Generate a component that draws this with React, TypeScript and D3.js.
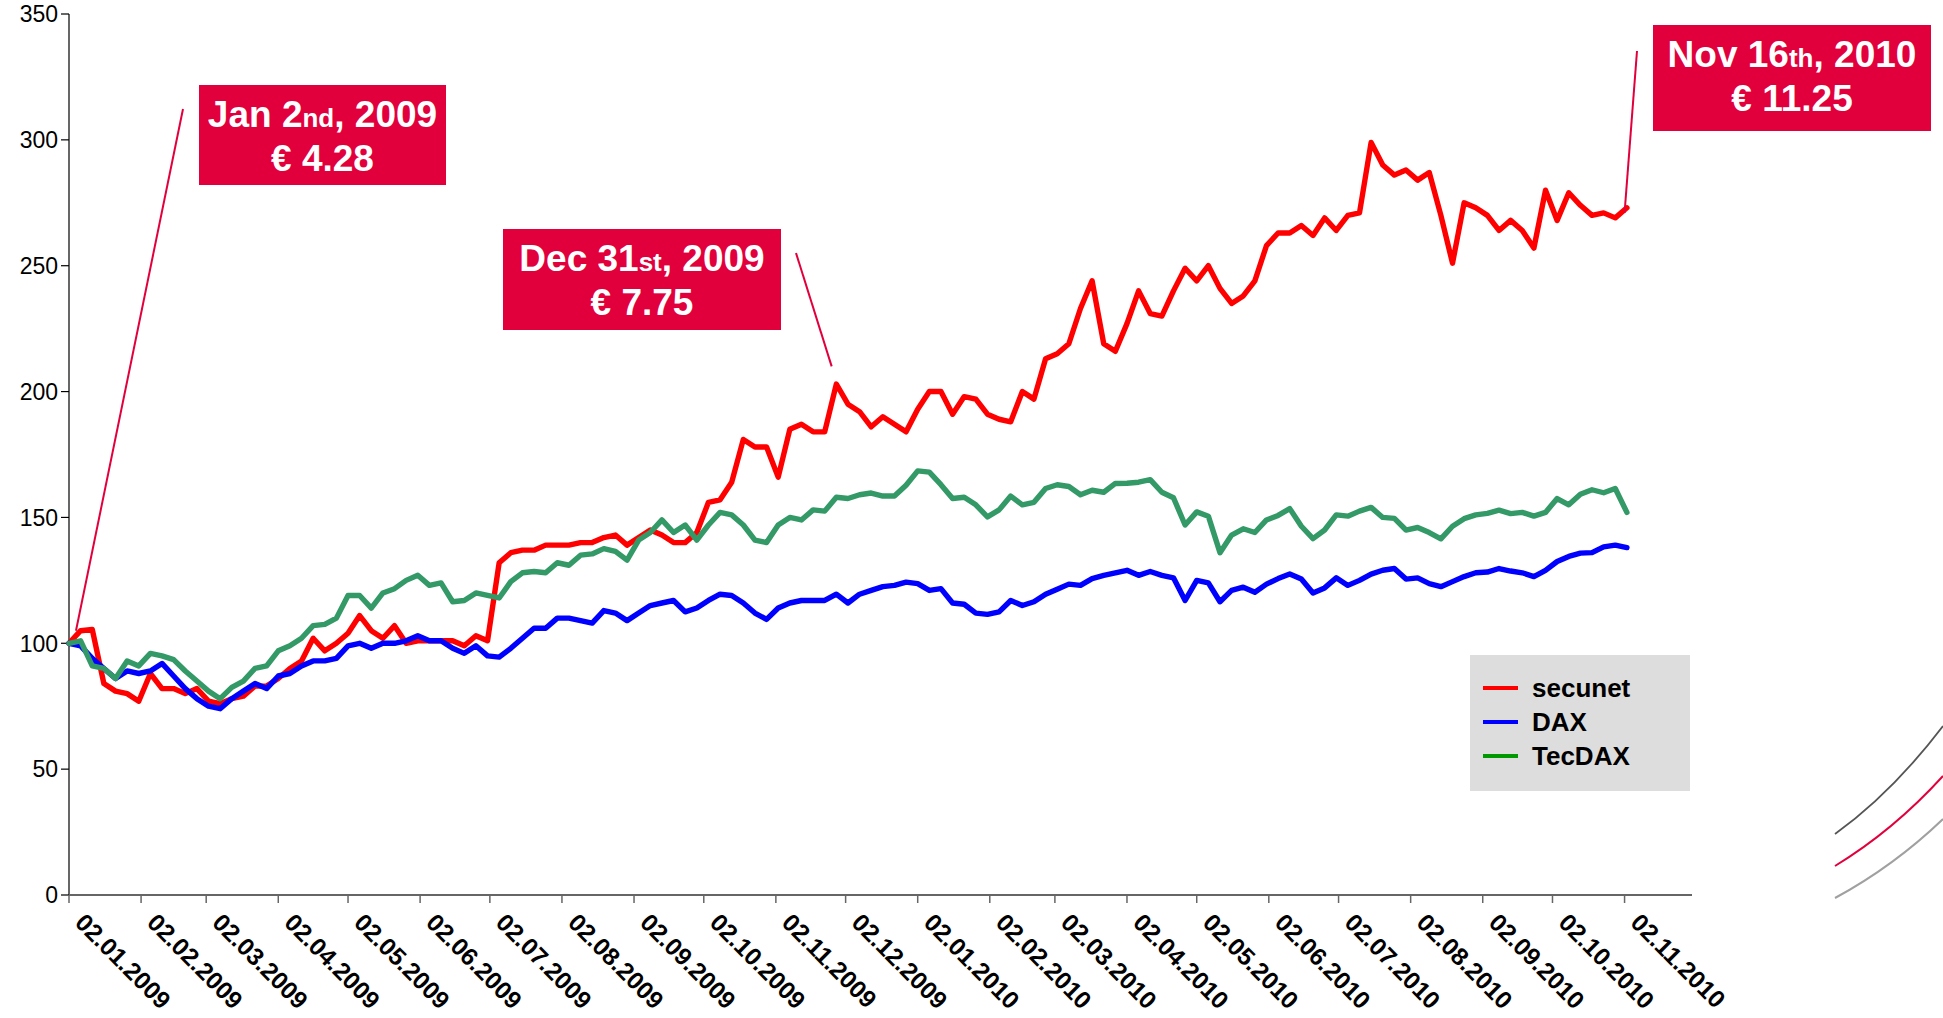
import React, { useEffect } from 'react';
import * as d3 from 'd3';

// sample every 5 calendar days starting 02.01.2009 (indexed to 100)
const START_DATE = Date.UTC(2009, 0, 2);
const STEP_DAYS = 5;

const SERIES_NAMES = ['secunet', 'DAX', 'TecDAX'];
const LINE_COLORS = ['#ff0000', '#0000ff', '#339966'];
const LEGEND_COLORS = ['#ff0000', '#0000ff', '#009900'];

const secunet = [
  100, 105, 105.5, 84, 81, 80, 77, 88, 82, 82,
  80, 82, 77, 76, 78, 79, 83, 83, 86, 90,
  93, 102, 97, 100, 104, 111, 105, 102, 107, 100,
  101, 101, 101, 101, 99, 103, 101, 132, 136, 137,
  137, 139, 139, 139, 140, 140, 142, 143, 139, 142,
  145, 143, 140, 140, 144, 156, 157, 164, 181, 178,
  178, 166, 185, 187, 184, 184, 203, 195, 192, 186,
  190, 187, 184, 193, 200, 200, 191, 198, 197, 191,
  189, 188, 200, 197, 213, 215, 219, 233, 244, 219,
  216, 227, 240, 231, 230, 240, 249, 244, 250, 241,
  235, 238, 244, 258, 263, 263, 266, 262, 269, 264,
  270, 271, 299, 290, 286, 288, 284, 287, 270, 251,
  275, 273, 270, 264, 268, 264, 257, 280, 268, 279,
  274, 270, 271, 269, 273,
];

const dax = [
  100, 99, 94, 90, 86, 89, 88, 89, 92, 87,
  82, 78, 75, 74, 78, 81, 84, 82, 87, 88,
  91, 93, 93, 94, 99, 100, 98, 100, 100, 101,
  103, 101, 101, 98, 96, 99, 95, 94.5, 98, 102,
  106, 106, 110, 110, 109, 108, 113, 112, 109, 112,
  115, 116, 117, 112.5, 114, 117, 119.5, 119, 116, 112,
  109.5, 114, 116, 117, 117, 117, 119.5, 116, 119.5, 121,
  122.5, 123, 124.3, 123.7, 121, 121.7, 116, 115.5, 112, 111.5,
  112.5, 117, 115, 116.5, 119.5, 121.5, 123.5, 123, 125.7, 127,
  128, 129, 127, 128.5, 127, 126, 117, 125, 124, 116.5,
  121, 122.3, 120.3, 123.5, 125.7, 127.5, 125.5, 120, 122, 126,
  123, 125, 127.5, 129, 129.7, 125.5, 126, 123.7, 122.5, 124.5,
  126.5, 128, 128.3, 129.7, 128.7, 128, 126.5, 129, 132.5, 134.5,
  135.8, 136, 138.3, 139, 138,
];

const tecdax = [
  100, 101, 91, 90, 86, 93, 91, 96, 95, 93.5,
  89, 85, 81, 78, 82.5, 85, 90, 91, 97, 99,
  102, 107, 107.5, 110, 119, 119, 114, 120, 121.7, 125,
  127, 123, 124, 116.5, 117, 120, 119, 118, 124.5, 128,
  128.5, 128, 132, 131, 135, 135.5, 137.6, 136.5, 133, 141,
  144, 149, 144, 147, 141, 147, 152, 151, 147, 141,
  140, 147, 150, 149, 153, 152.5, 158, 157.5, 159, 159.7,
  158.5, 158.5, 162.8, 168.5, 168, 163, 157.5, 158, 155, 150.2,
  153, 158.5, 155, 156, 161.5, 163, 162.3, 159, 160.8, 160,
  163.5, 163.6, 164, 165, 160, 157.8, 147, 152.2, 150.5, 136,
  143, 145.5, 144, 149, 150.8, 153.5, 146.5, 141.6, 145, 151,
  150.5, 152.5, 154, 150, 149.6, 145, 146, 144, 141.5, 146.5,
  149.5, 151, 151.6, 152.9, 151.5, 152, 150.5, 152, 157.5, 155,
  159.2, 161, 159.8, 161.5, 152,
];

const Y_TICKS = [0, 50, 100, 150, 200, 250, 300, 350];

// annotation texts
const NOTE_DAY = ['Jan 2', 'Dec 31', 'Nov 16'];
const NOTE_SUFFIX = ['nd', 'st', 'th'];
const NOTE_YEAR = [', 2009', ', 2009', ', 2010'];
const NOTE_PRICE = ['€ 4.28', '€ 7.75', '€ 11.25'];
// where the leader line meets the curve
const NOTE_ANCHOR_DATE = [Date.UTC(2009, 0, 5), Date.UTC(2009, 10, 26), Date.UTC(2010, 10, 2)];
const NOTE_ANCHOR_VALUE = [105, 210, 271];

// box layout (pixels)
const NOTE_BOX = [
  { x: 199, y: 85, w: 247, h: 100, lx: 183, ly: 109 },
  { x: 503, y: 229, w: 278, h: 101, lx: 796, ly: 253 },
  { x: 1653, y: 25, w: 278, h: 106, lx: 1637, ly: 51 },
];

const W = 1943;
const H = 1018;
const ACCENT = '#e2003c';
const FONT = "'Liberation Sans', Arial, Helvetica, sans-serif";

const App: React.FC = () => {
  useEffect(() => {
    document.body.style.margin = '0';
  }, []);

  const x = d3.scaleUtc()
    .domain([new Date(Date.UTC(2009, 0, 2)), new Date(Date.UTC(2010, 11, 1))])
    .range([69, 1692]);
  const y = d3.scaleLinear().domain([0, 350]).range([895, 14]);

  const dates = secunet.map((_, i) => d3.utcDay.offset(new Date(START_DATE), i * STEP_DAYS));
  const seriesList = [secunet, dax, tecdax];

  const line = d3.line<number>()
    .x((_, i) => x(dates[i]))
    .y(d => y(d));

  const xTicks = d3.utcMonth
    .range(new Date(Date.UTC(2009, 0, 1)), new Date(Date.UTC(2010, 10, 2)))
    .map(d => d3.utcDay.offset(d, 1));
  const fmt = d3.utcFormat('%d.%m.%Y');

  const [x0, x1] = x.range();
  const [yBottom, yTop] = y.range();

  return (
    <svg width={W} height={H} style={{ display: 'block', background: '#fff' }} fontFamily={FONT}>
      {/* y axis */}
      <line x1={x0} x2={x0} y1={yBottom} y2={yTop} stroke="#000" strokeWidth={1.2} />
      {Y_TICKS.map(t => (
        <g key={t} transform={`translate(0,${y(t)})`}>
          <line x1={x0 - 8} x2={x0} stroke="#000" strokeWidth={1.2} />
          <text x={x0 - 11} dy="0.36em" textAnchor="end" fontSize={23} fill="#000">{t}</text>
        </g>
      ))}

      {/* x axis */}
      <line x1={x0} x2={x1} y1={yBottom} y2={yBottom} stroke="#666" strokeWidth={2} />
      {xTicks.map(t => (
        <g key={t.getTime()}>
          <line x1={x(t)} x2={x(t)} y1={yBottom} y2={yBottom + 8} stroke="#666" strokeWidth={1.5} />
          <text
            transform={`translate(${x(t) + 4.7},${yBottom + 29}) rotate(45)`}
            fontSize={24.5}
            fontWeight="bold"
            fill="#000"
          >
            {fmt(t)}
          </text>
        </g>
      ))}

      {/* series */}
      {seriesList.map((s, i) => (
        <path
          key={SERIES_NAMES[i]}
          d={line(s) || ''}
          fill="none"
          stroke={LINE_COLORS[i]}
          strokeWidth={5.4}
          strokeLinejoin="round"
          strokeLinecap="round"
        />
      ))}

      {/* annotations */}
      {NOTE_BOX.map((b, i) => (
        <g key={i}>
          <line
            x1={b.lx}
            y1={b.ly}
            x2={x(new Date(NOTE_ANCHOR_DATE[i]))}
            y2={y(NOTE_ANCHOR_VALUE[i])}
            stroke={ACCENT}
            strokeWidth={2}
          />
          <rect x={b.x} y={b.y} width={b.w} height={b.h} fill={ACCENT} />
          <text x={b.x + b.w / 2} y={b.y + 42} textAnchor="middle" fontSize={37} fontWeight="bold" fill="#fff">
            {NOTE_DAY[i]}
            <tspan fontSize={26}>{NOTE_SUFFIX[i]}</tspan>
            {NOTE_YEAR[i]}
          </text>
          <text x={b.x + b.w / 2} y={b.y + 86} textAnchor="middle" fontSize={37} fontWeight="bold" fill="#fff">
            {NOTE_PRICE[i]}
          </text>
        </g>
      ))}

      {/* legend */}
      <g transform="translate(1470,655)">
        <rect width={220} height={136} fill="#dddddd" />
        {SERIES_NAMES.map((n, i) => (
          <g key={n} transform={`translate(0,${33 + i * 34})`}>
            <line x1={13} x2={48} stroke={LEGEND_COLORS[i]} strokeWidth={4} />
            <text x={62} dy={8.5} fontSize={26} fontWeight="bold" fill="#000">{n}</text>
          </g>
        ))}
      </g>

      {/* decorative swooshes */}
      <path d="M1835,834 Q1892,793 1943,726" fill="none" stroke="#555" strokeWidth={1.8} />
      <path d="M1835,866 Q1894,830 1943,776" fill="none" stroke={ACCENT} strokeWidth={2} />
      <path d="M1835,898 Q1894,866 1943,819" fill="none" stroke="#a0a0a0" strokeWidth={2} />
    </svg>
  );
};

export default App;
